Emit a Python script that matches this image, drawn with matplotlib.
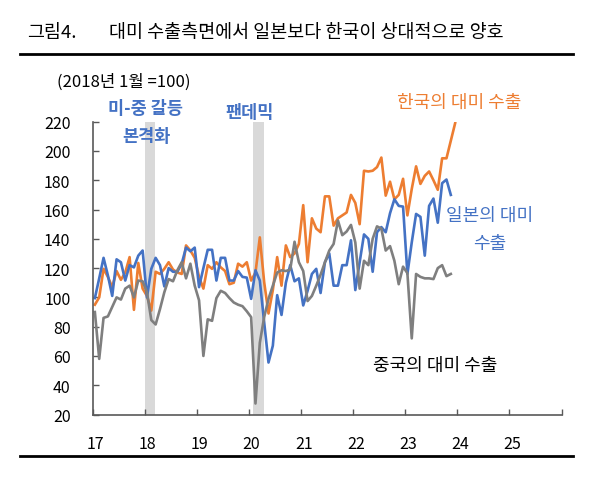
import matplotlib
matplotlib.use("Agg")
import matplotlib.pyplot as plt
from matplotlib.lines import Line2D
import numpy as np

plt.rcParams['font.family'] = ['Noto Sans CJK KR', 'DejaVu Sans']

# monthly index, 2018-01 = 100, series start 2017-01
korea = [95, 100, 119.5, 114, 107, 118, 112, 117, 127.5, 91.5,
         123.5, 106, 101, 91, 117.5, 116, 119.5, 124, 119, 117,
         116, 135.5, 132, 127, 114, 106, 122, 119.5, 124, 120.5,
         118, 109, 110, 123, 121, 124, 111.5, 117, 141, 110.5,
         89, 105, 127.5, 108, 135.5, 127.5, 130, 136.5, 163, 124,
         154, 147, 144.5, 169, 169, 149, 154, 156, 158, 170,
         164.5, 150, 186.5, 186, 186.5, 189, 195.5, 169.5, 179, 167,
         170, 181, 156, 174, 189.5, 177.5, 183, 186, 180, 173.5,
         195, 195, 207, 219]
japan = [99.5, 113, 127, 115, 101, 126, 124, 111.5, 122, 120.5,
         128.5, 132, 100, 119.5, 127, 122, 107.5, 120, 117.5, 117.5,
         123, 134, 131.5, 134, 107, 120, 132.5, 132.5, 111.5, 127,
         127, 111.5, 111.5, 118, 114, 113.5, 99, 118.5, 111.5, 83,
         55.5, 67, 101.5, 88, 110, 122, 111, 113, 94.5, 104.5,
         116, 119.5, 103, 124, 130, 108, 108, 122, 122, 139,
         105, 124, 143, 140, 117.5, 144.5, 148, 144.5, 157.5, 167,
         162.5, 162, 116, 137.5, 157, 155, 128.5, 162.5, 167.5, 151,
         178, 180.5, 170]
china = [90, 58, 86, 87, 93.5, 100, 98.5, 106, 108, 100,
         111.5, 111, 103.5, 84.5, 81.5, 92, 103.5, 112.5, 111, 118.5,
         124, 113, 123, 108, 98, 60, 85, 84, 99.5, 104.5,
         103, 99.5, 96.5, 95, 94, 90.5, 86.5, 27.5, 69, 86.5,
         99, 108, 117, 118.5, 118, 119, 138, 124, 118, 97.5,
         101, 108, 115.5, 124, 132, 136.5, 152.5, 142.5, 145, 149.5,
         137.5, 106, 125, 122, 140, 148.5, 147, 132, 135, 125,
         109, 121, 116.5, 72, 116, 114, 113, 113, 112.5, 120,
         122, 114.5, 116]

year_labels = ['17', '18', '19', '20', '21', '22', '23', '24', '25']
y_ticks = [20, 40, 60, 80, 100, 120, 140, 160, 180, 200, 220]
# shaded periods in month index (2018 trade dispute, 2020 pandemic)
shade_periods = [(11.6, 13.9), (36.4, 38.9)]

W, H = 602, 481


def fx(px):
    return px / W


def fy(py):
    return 1 - py / H


fig = plt.figure(figsize=(W / 100, H / 100), dpi=100)
ax = fig.add_axes([fx(92.7), fy(415.5), fx(561.5) - fx(92.7), fy(122.7) - fy(415.5)])

for a, b in shade_periods:
    ax.axvspan(a, b, color='#d9d9d9', lw=0, zorder=0)

ax.plot(np.arange(len(korea)), korea, color='#ED7D31', lw=1.9, solid_joinstyle='round')
ax.plot(np.arange(len(japan)), japan, color='#4472C4', lw=1.9, solid_joinstyle='round')
ax.plot(np.arange(len(china)), china, color='#7F7F7F', lw=1.9, solid_joinstyle='round')

ax.set_xlim(-0.5, 12 * len(year_labels) - 0.5)
ax.set_ylim(20, 220)

ax.set_xticks([12 * k - 0.5 for k in range(len(year_labels) + 1)])
ax.set_xticklabels([])
ax.set_xticks([12 * k + 0.1 for k in range(len(year_labels))], minor=True)
ax.set_xticklabels(year_labels, minor=True)
ax.tick_params(axis='x', which='major', direction='in', length=4, width=1, color='#595959')
ax.tick_params(axis='x', which='minor', length=0, pad=15, labelsize=11.5)

ax.set_yticks(y_ticks)
ax.tick_params(axis='y', direction='in', length=4.5, width=1, color='#595959', pad=16, labelsize=11.5)

for s in ['top', 'right']:
    ax.spines[s].set_visible(False)
for s in ['left', 'bottom']:
    ax.spines[s].set_color('#595959')
    ax.spines[s].set_linewidth(1.2)

# title and frame lines
fig.text(fx(27), fy(33), '그림4.', fontsize=13.3, va='center', ha='left')
fig.text(fx(109), fy(33), '대미 수출측면에서 일본보다 한국이 상대적으로 양호',
         fontsize=13.3, va='center', ha='left')
fig.add_artist(Line2D([fx(20), fx(573)], [fy(55), fy(55)], color='black', lw=2))
fig.add_artist(Line2D([fx(20), fx(573)], [fy(457), fy(457)], color='black', lw=2))

fig.text(fx(57), fy(82), '(2018년 1월 =100)', fontsize=12, va='center', ha='left')

blue = '#4472C4'
fig.text(fx(146), fy(109), '미-중 갈등', fontsize=12.6, fontweight='bold', color=blue,
         ha='center', va='center')
fig.text(fx(146), fy(137), '본격화', fontsize=12.6, fontweight='bold', color=blue,
         ha='center', va='center')
fig.text(fx(250), fy(113), '팬데믹', fontsize=12.6, fontweight='bold', color=blue,
         ha='center', va='center')
fig.text(fx(459), fy(103), '한국의 대미 수출', fontsize=13, color='#ED7D31',
         ha='center', va='center')
fig.text(fx(490), fy(216), '일본의 대미', fontsize=13, color=blue, ha='center', va='center')
fig.text(fx(490), fy(244), '수출', fontsize=13, color=blue, ha='center', va='center')
fig.text(fx(435), fy(366), '중국의 대미 수출', fontsize=13, color='black',
         ha='center', va='center')

fig.savefig('out.png', dpi=100)
